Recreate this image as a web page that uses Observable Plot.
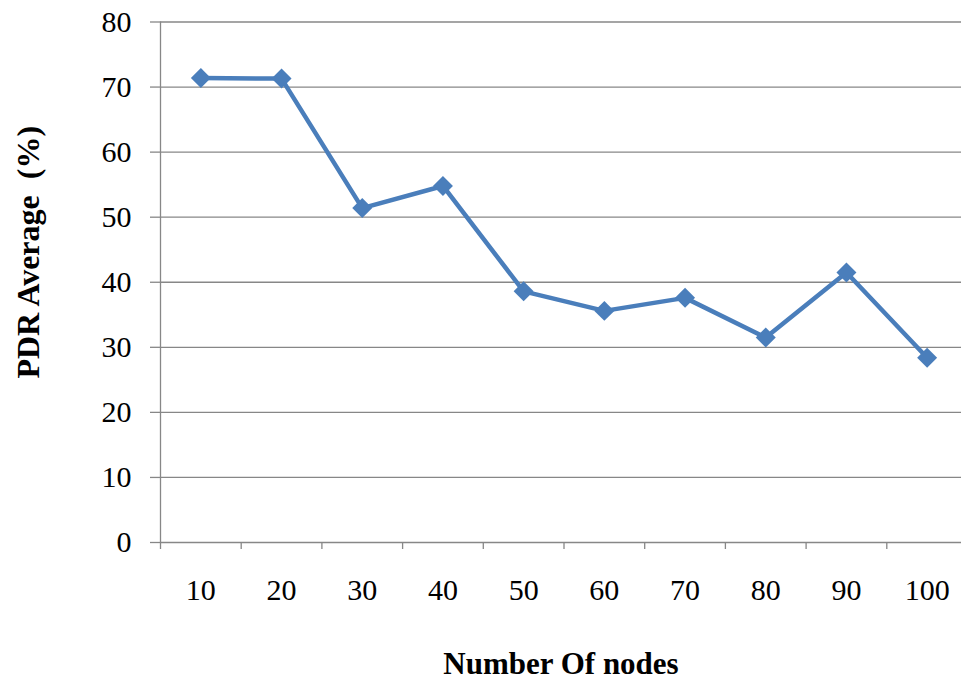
<!DOCTYPE html>
<html>
<head>
<meta charset="utf-8">
<script src="https://cdn.jsdelivr.net/npm/d3@7"></script>
<script src="https://cdn.jsdelivr.net/npm/@observablehq/plot@0.6"></script>
<style>
  html, body { margin: 0; padding: 0; background: #fff; }
  #chart { width: 961px; height: 684px; overflow: hidden; }
</style>
</head>
<body>
<div id="chart"></div>
<script>
const nodes = [10, 20, 30, 40, 50, 60, 70, 80, 90, 100];
const pdrAverage = [71.4, 71.3, 51.4, 54.8, 38.6, 35.6, 37.6, 31.5, 41.5, 28.4];
const yTicks = [0, 10, 20, 30, 40, 50, 60, 70, 80];
const xTitle = "Number Of nodes";
const yTitle = "PDR Average  (%)";

const data = nodes.map((n, i) => ({ n, v: pdrAverage[i] }));
const step = nodes[1] - nodes[0];
const boundaries = [nodes[0] - step / 2, ...nodes.map(n => n + step / 2)];

const gray = "#878787";
const blue = "#4a7ebb";
const font = "'Liberation Serif', 'Times New Roman', serif";

const chart = Plot.plot({
  width: 961,
  height: 684,
  marginLeft: 160,
  marginRight: 0,
  marginTop: 21.5,
  marginBottom: 142,
  style: { fontFamily: font, fontSize: "30px", color: "#000", background: "#fff" },
  x: { type: "linear", domain: [boundaries[0], boundaries[boundaries.length - 1]], range: [160, 967] },
  y: { domain: [0, 80], range: [542, 21.5] },
  marks: [
    Plot.ruleY(yTicks, { stroke: gray, strokeWidth: 1.3 }),
    Plot.ruleX([boundaries[0]], { y1: 0, y2: 80, stroke: gray, strokeWidth: 1.3 }),
    Plot.axisY({ ticks: yTicks, tickSize: 10, tickPadding: 19, stroke: gray, strokeWidth: 1.3, label: null, fill: "#000", fontSize: 30, fontFamily: font }),
    Plot.axisX({ ticks: boundaries, tickSize: 7, tickFormat: () => "", stroke: gray, strokeWidth: 1.3, label: null }),
    Plot.axisX({ ticks: nodes, tickSize: 0, tickPadding: 36, tickFormat: d => String(d), label: null, fill: "#000", fontSize: 30, fontFamily: font }),
    Plot.line(data, { x: "n", y: "v", stroke: blue, strokeWidth: 4.5, strokeLinejoin: "round" }),
    Plot.dot(data, { x: "n", y: "v", symbol: "diamond2", r: 9, fill: blue, stroke: "none" }),
    Plot.text([xTitle], { frameAnchor: "bottom", lineAnchor: "middle", textAnchor: "middle", dy: 122, text: d => d, fontWeight: "bold", fontSize: 31, fontFamily: font, fill: "#000" }),
    Plot.text([yTitle], { frameAnchor: "left", lineAnchor: "middle", textAnchor: "middle", dx: -132, dy: -30, rotate: -90, text: d => d, fontWeight: "bold", fontSize: 32, fontFamily: font, fill: "#000" })
  ]
});
document.getElementById("chart").appendChild(chart);
</script>
</body>
</html>
